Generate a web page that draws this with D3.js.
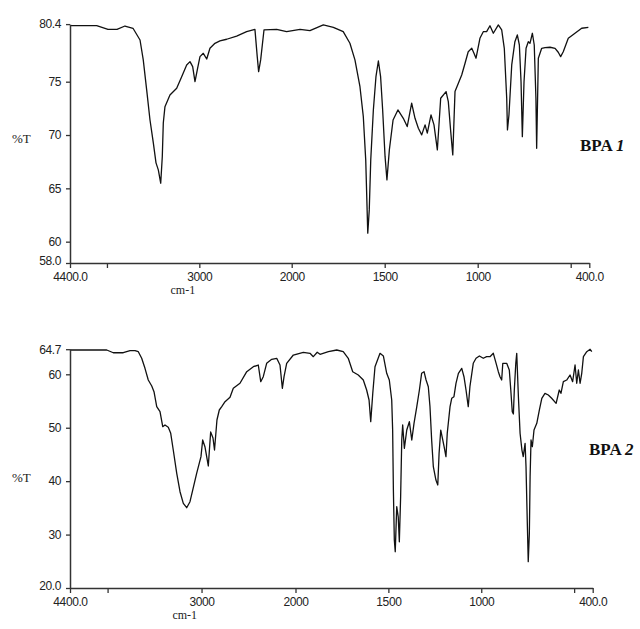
<!DOCTYPE html>
<html>
<head>
<meta charset="utf-8">
<script src="https://cdn.jsdelivr.net/npm/d3@7"></script>
<style>
  html, body { margin: 0; padding: 0; background: #fff; }
  svg { display: block; }
</style>
</head>
<body>
<svg id="chart" width="640" height="629"></svg>
<script>
// ---------- DATA ----------
const xTickValues = [4400, 4000, 3000, 2000, 1500, 1000, 500, 400];
const xTickLabels = ["4400.0", "", "3000", "2000", "1500", "1000", "", "400.0"];
const xAxisTitle = "cm-1";
const yAxisTitle = "%T";

const topYTicks = [80.4, 75, 70, 65, 60, 58.0];
const topYTickLabels = ["80.4", "75", "70", "65", "60", "58.0"];
const bottomYTicks = [64.7, 60, 50, 40, 30, 20.0];
const bottomYTickLabels = ["64.7", "60", "50", "40", "30", "20.0"];

const topLabel = ["BPA ", "1"];
const bottomLabel = ["BPA ", "2"];

// BPA 1 spectrum (wavenumber cm-1, %T)
const topWavenumber = [4400,4111,3989,3891,3805,3718,3642,3607,3570,3534,3498,3469,3444,3418,3401,3390,3372,3318,3245,3191,3137,3101,3072,3047,3022,2993,2957,2920,2885,2831,2777,2704,2596,2488,2398,2373,2358,2336,2300,2163,2055,1955,1902,1830,1776,1723,1687,1660,1633,1615,1602,1591,1583,1575,1561,1547,1534,1522,1511,1498,1488,1475,1455,1429,1400,1379,1355,1337,1319,1301,1283,1271,1251,1235,1217,1199,1170,1158,1145,1134,1122,1104,1086,1068,1051,1032,1020,1009,1002,988,970,952,934,916,889,871,857,844,840,832,817,800,787,776,767,760,751,740,728,719,706,696,687,683,674,656,638,611,584,567,554,540,513,477,441,405];
const topTransmittance = [80.25,80.25,79.91,79.91,80.22,80.01,78.91,77.04,74.23,71.41,69.26,67.39,66.73,65.48,67.97,71.13,72.66,73.76,74.38,75.47,76.57,76.88,76.41,75.0,76.1,77.35,77.66,77.13,78.13,78.6,78.82,78.98,79.28,79.69,79.91,77.35,75.94,77.04,79.85,79.91,79.69,79.91,79.78,80.32,80.1,79.69,78.6,77.04,74.53,71.72,67.67,60.8,62.98,67.67,72.35,75.47,76.94,75.47,72.35,67.97,65.79,68.6,71.41,72.35,71.57,70.79,72.98,71.57,70.64,70.01,70.95,70.17,71.88,70.95,68.6,73.45,74.07,73.13,70.32,68.13,74.07,74.85,75.63,76.73,77.81,78.13,77.66,77.2,77.81,79.07,79.69,79.69,80.25,79.54,80.32,79.85,78.13,73.45,70.48,71.88,76.57,78.75,79.38,78.44,75.0,69.85,75.0,78.13,78.75,78.6,79.54,78.44,73.45,68.76,77.2,78.13,78.19,78.23,78.13,77.76,77.35,77.81,79.07,79.54,80.01,80.1];

// BPA 2 spectrum (wavenumber cm-1, %T)
const bottomWavenumber = [4400,4009,3939,3833,3761,3708,3673,3637,3602,3567,3530,3506,3477,3442,3413,3389,3354,3328,3301,3264,3229,3194,3158,3123,3094,3052,3006,2988,2963,2928,2903,2878,2862,2836,2811,2785,2750,2697,2662,2591,2519,2449,2396,2370,2343,2307,2253,2200,2165,2140,2122,2094,2023,1958,1922,1904,1883,1868,1823,1778,1743,1716,1692,1662,1635,1617,1604,1595,1584,1572,1545,1527,1509,1495,1482,1477,1473,1468,1463,1455,1447,1441,1434,1428,1423,1414,1401,1387,1374,1362,1347,1333,1321,1308,1297,1285,1276,1267,1258,1244,1234,1227,1218,1207,1200,1190,1183,1168,1159,1147,1136,1123,1105,1093,1082,1070,1061,1043,1028,1010,989,971,953,935,920,908,899,890,884,863,849,841,833,827,822,814,809,800,791,781,774,764,759,752,747,741,737,732,725,716,701,687,674,657,639,621,597,580,571,558,540,522,508,495,486,477,468,459,450,432,414,405];
const bottomTransmittance = [64.55,64.55,64.04,64.04,64.42,64.42,64.23,63.0,61.12,58.93,57.81,56.74,53.94,53.0,50.19,50.51,50.08,48.96,45.83,41.47,38.02,35.85,35.03,36.15,38.34,41.47,44.58,47.7,46.39,42.84,49.2,48.08,45.83,51.45,53.32,53.94,54.87,55.7,57.38,58.32,60.49,61.42,61.74,58.62,59.55,62.06,62.81,63.0,61.74,57.38,59.55,62.06,63.61,64.12,63.93,63.3,64.12,63.75,64.23,64.55,64.23,63.0,60.49,59.87,58.93,57.06,55.19,51.13,56.44,61.42,63.93,63.43,60.19,58.93,55.19,49.57,38.34,28.98,26.79,35.22,33.34,28.66,37.09,47.7,50.51,46.15,49.57,51.13,47.7,50.83,53.94,57.06,60.19,60.49,58.93,57.68,53.94,47.7,42.7,40.21,39.28,45.21,49.57,47.7,46.45,44.58,48.96,53.94,55.51,55.81,58.32,60.19,61.12,59.55,57.06,53.94,57.68,62.06,63.0,63.43,63.0,63.3,63.3,63.93,62.06,60.49,59.55,58.93,62.06,62.06,60.81,57.06,53.0,52.57,57.06,62.06,63.93,55.81,48.96,45.83,44.58,47.08,42.7,32.11,24.92,30.24,40.83,47.7,46.45,49.57,50.83,53.32,55.51,56.44,56.13,55.51,54.57,57.06,56.44,58.62,58.93,59.87,58.62,61.74,58.32,60.81,58.32,60.19,63.3,64.23,64.68,64.23];

// ---------- DRAW ----------
const svg = d3.select("#chart");
const tickFont = "'Liberation Sans', Arial, sans-serif";
const serifFont = "'Liberation Serif', 'Times New Roman', serif";

function drawPanel(cfg) {
  const x = d3.scaleLinear().domain([4400, 2000, 400]).range(cfg.xRange);
  const y = d3.scaleLinear().domain(cfg.yDomain).range(cfg.yRange);
  const g = svg.append("g");

  // curve
  const pts = cfg.wn.map((w, i) => [w, cfg.tr[i]]);
  g.append("path")
    .datum(pts)
    .attr("fill", "none")
    .attr("stroke", "#111")
    .attr("stroke-width", 1.3)
    .attr("stroke-linejoin", "round")
    .attr("d", d3.line().x(d => x(d[0])).y(d => y(d[1])));

  // x axis
  const xAxis = d3.axisBottom(x)
    .tickValues(xTickValues)
    .tickFormat((d, i) => xTickLabels[i])
    .tickSizeOuter(0)
    .tickSizeInner(5)
    .tickPadding(4);
  const gx = g.append("g")
    .attr("transform", `translate(0,${cfg.yRange[0]})`)
    .call(xAxis);
  gx.select(".domain").attr("stroke", "#333").attr("stroke-width", 1.5);
  gx.selectAll(".tick line").attr("stroke", "#333").attr("stroke-width", 1.3);
  gx.selectAll(".tick text")
    .attr("font-family", tickFont)
    .attr("font-size", 12)
    .attr("letter-spacing", "-0.4px")
    .attr("fill", "#222");

  // y axis
  const yAxis = d3.axisLeft(y)
    .tickValues(cfg.yTicks)
    .tickFormat((d, i) => cfg.yTickLabels[i])
    .tickSizeOuter(0)
    .tickSizeInner(4)
    .tickPadding(5);
  const gy = g.append("g")
    .attr("transform", `translate(${cfg.xRange[0]},0)`)
    .call(yAxis);
  gy.select(".domain").attr("stroke", "#333").attr("stroke-width", 1.5);
  gy.selectAll(".tick line").attr("stroke", "#333").attr("stroke-width", 1.3);
  gy.selectAll(".tick text")
    .attr("font-family", tickFont)
    .attr("font-size", 12)
    .attr("letter-spacing", "-0.4px")
    .attr("fill", "#222");
  // nudge bottom label upward a bit
  gy.selectAll(".tick text").filter((d, i) => i === cfg.yTicks.length - 1).attr("dy", "0.1em");

  // axis titles
  g.append("text")
    .attr("x", (cfg.xRange[0] + cfg.xRange[1]) / 2 + 2)
    .attr("y", cfg.yRange[0] + 31)
    .attr("text-anchor", "middle")
    .attr("font-family", serifFont)
    .attr("font-size", 12)
    .attr("fill", "#222")
    .text(xAxisTitle);

  g.append("text")
    .attr("x", 12)
    .attr("y", cfg.pctY)
    .attr("font-family", serifFont)
    .attr("font-size", 13)
    .attr("fill", "#222")
    .text(yAxisTitle);

  // sample label
  const t = g.append("text")
    .attr("x", cfg.labelX)
    .attr("y", cfg.labelY)
    .attr("font-family", serifFont)
    .attr("font-size", 17)
    .attr("font-weight", "bold")
    .attr("fill", "#111");
  t.append("tspan").text(cfg.label[0]);
  t.append("tspan").attr("font-style", "italic").text(cfg.label[1]);
}

drawPanel({
  wn: topWavenumber, tr: topTransmittance,
  xRange: [70, 291.7, 589.3],
  yDomain: [58.0, 80.4], yRange: [263, 24.1],
  yTicks: topYTicks, yTickLabels: topYTickLabels,
  pctY: 143, label: topLabel, labelX: 580, labelY: 151
});

drawPanel({
  wn: bottomWavenumber, tr: bottomTransmittance,
  xRange: [70, 295.5, 592.7],
  yDomain: [20.0, 64.7], yRange: [588, 349.2],
  yTicks: bottomYTicks, yTickLabels: bottomYTickLabels,
  pctY: 482, label: bottomLabel, labelX: 589, labelY: 455
});
</script>
</body>
</html>
